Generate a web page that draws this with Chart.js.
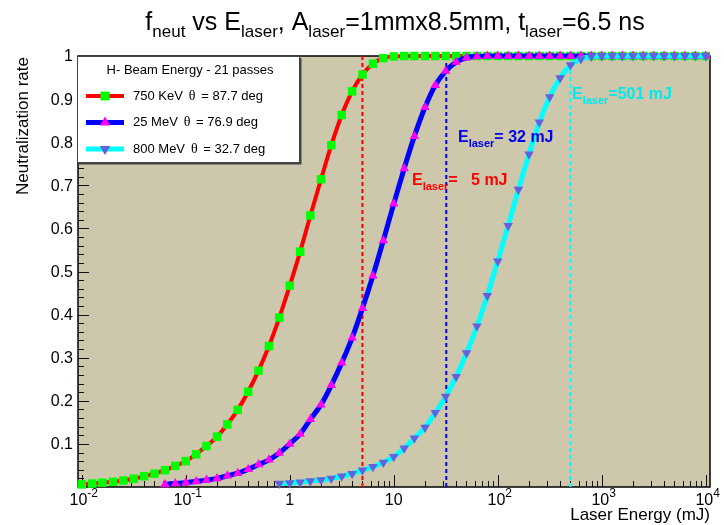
<!DOCTYPE html>
<html>
<head>
<meta charset="utf-8">
<script src="https://cdn.jsdelivr.net/npm/chart.js@4/dist/chart.umd.min.js"></script>
<style>
  body { margin: 0; background: #fff; }
  #wrap { width: 724px; height: 525px; position: relative; }
</style>
</head>
<body>
<div id="wrap"><canvas id="myChart"></canvas></div>
<script>
// laser energy grid (mJ), 10 points per decade
const energy = [
  0.01, 0.0126, 0.0158, 0.02, 0.0251, 0.0316, 0.0398, 0.0501, 0.0631, 0.0794,
  0.1, 0.126, 0.158, 0.2, 0.251, 0.316, 0.398, 0.501, 0.631, 0.794,
  1, 1.26, 1.58, 2, 2.51, 3.16, 3.98, 5.01, 6.31, 7.94,
  10, 12.6, 15.8, 20, 25.1, 31.6, 39.8, 50.1, 63.1, 79.4,
  100, 126, 158, 200, 251, 316, 398, 501, 631, 794,
  1000, 1260, 1580, 2000, 2510, 3160, 3980, 5010, 6310, 7940,
  10000
];

// neutralization rate, each series ends at 10^4 mJ
const rate750keV = [
  0.006, 0.008, 0.010, 0.012, 0.015, 0.019, 0.025, 0.031, 0.039, 0.049,
  0.060, 0.076, 0.095, 0.117, 0.145, 0.179, 0.221, 0.270, 0.327, 0.393,
  0.467, 0.546, 0.630, 0.714, 0.793, 0.863, 0.918, 0.957, 0.982, 0.995,
  0.999, 1, 1, 1, 1, 1, 1, 1, 1, 1,
  1, 1, 1, 1, 1, 1, 1, 1, 1, 1,
  1, 1, 1, 1, 1, 1, 1, 1, 1, 1,
  1
];
const rate25MeV = [
  0.006, 0.008, 0.010, 0.013, 0.016, 0.020, 0.026, 0.032,
  0.041, 0.052, 0.063, 0.079,
  0.100, 0.123, 0.157, 0.191, 0.236, 0.288, 0.346, 0.415, 0.490, 0.572,
  0.657, 0.739, 0.814, 0.881, 0.932, 0.965, 0.986, 0.996, 0.999, 1,
  1, 1, 1, 1, 1, 1, 1, 1, 1, 1,
  1, 1, 1, 1, 1, 1, 1, 1, 1, 1,
  1
];
const rate800MeV = [
  0.008,
  0.009, 0.011, 0.014, 0.016, 0.020, 0.025, 0.031, 0.039, 0.047, 0.057,
  0.070, 0.090, 0.113, 0.138, 0.172, 0.210, 0.256, 0.311, 0.373, 0.444,
  0.524, 0.606, 0.690, 0.772, 0.846, 0.905, 0.949, 0.979, 0.993, 0.999,
  1, 1, 1, 1, 1, 1, 1, 1, 1, 1,
  1
];

const seriesNames = ['750 KeV', '25 MeV', '800 MeV'];
const seriesTheta = ['87.7', '76.9', '32.7'];
const laserEnergy = [5, 32, 501];
const laserLabels = ['=   5 mJ', '= 32 mJ', '=501 mJ'];

const xTickValues = [0.01, 0.1, 1, 10, 100, 1000, 10000];
const xTickLabels = [['10', '-2'], ['10', '-1'], ['1', ''], ['10', ''], ['10', '2'], ['10', '3'], ['10', '4']];
const yTickValues = [0.1, 0.2, 0.3, 0.4, 0.5, 0.6, 0.7, 0.8, 0.9, 1];
const yTickLabels = ['0.1', '0.2', '0.3', '0.4', '0.5', '0.6', '0.7', '0.8', '0.9', '1'];

const SANS = '"Liberation Sans", Arial, Helvetica, sans-serif';
const SERIF = '"Liberation Serif", "Times New Roman", serif';
const lineColors = ['#ff0000', '#0000ff', '#00ffff'];
const markColors = ['#00ff00', '#ff00ff', '#6262dc'];
const labelColors = ['#ff0000', '#0000ee', '#00e8f0'];

const toPoints = vals => vals.map((v, i) => ({ x: energy[energy.length - vals.length + i], y: v }));

function richWidth(ctx, parts, fonts) {
  let w = 0;
  for (const [t, k] of parts) { ctx.font = fonts[k]; w += ctx.measureText(t).width; }
  return w;
}
function drawRich(ctx, parts, x, y, align, fonts, shifts) {
  const w = richWidth(ctx, parts, fonts);
  let cx = align === 'center' ? x - w / 2 : align === 'right' ? x - w : x;
  ctx.textAlign = 'left';
  ctx.textBaseline = 'alphabetic';
  for (const [t, k] of parts) {
    ctx.font = fonts[k];
    ctx.fillText(t, cx, y + shifts[k]);
    cx += ctx.measureText(t).width;
  }
}
function marker(ctx, kind, cx, cy, r, color) {
  ctx.fillStyle = color;
  ctx.beginPath();
  if (kind === 'rect') {
    const s = r * Math.SQRT1_2;
    ctx.rect(cx - s, cy - s, 2 * s, 2 * s);
  } else {
    const dir = kind === 'down' ? -1 : 1;
    for (let i = 0; i < 3; i++) {
      const a = i * 2 * Math.PI / 3;
      const px = cx + Math.sin(a) * r * dir, py = cy - Math.cos(a) * r * dir;
      i ? ctx.lineTo(px, py) : ctx.moveTo(px, py);
    }
    ctx.closePath();
  }
  ctx.fill();
}

const rootFrame = {
  id: 'rootFrame',
  beforeDatasetsDraw(chart) {
    const { ctx, chartArea: a, scales: { x, y } } = chart;
    ctx.save();
    ctx.fillStyle = '#cdc7ab';
    ctx.fillRect(a.left, a.top, a.right - a.left, a.bottom - a.top);
    ctx.strokeStyle = '#111';
    ctx.lineWidth = 1;
    ctx.beginPath();
    for (let d = -3; d <= 4; d++) {
      for (let m = 1; m <= 9; m++) {
        const v = m * Math.pow(10, d);
        if (v < x.min || v > x.max) continue;
        const px = Math.round(x.getPixelForValue(v)) + 0.5;
        ctx.moveTo(px, a.bottom);
        ctx.lineTo(px, a.bottom - (m === 1 ? 12 : 6));
      }
    }
    for (let i = 1; i < 50; i++) {
      const py = Math.round(y.getPixelForValue(i * 0.02)) + 0.5;
      ctx.moveTo(a.left, py);
      ctx.lineTo(a.left + (i % 5 === 0 ? 11 : 6), py);
    }
    ctx.stroke();
    ctx.lineWidth = 1.5;
    ctx.strokeStyle = '#000';
    ctx.strokeRect(a.left, a.top, a.right - a.left, a.bottom - a.top);
    ctx.restore();
  },
  afterDraw(chart) {
    const { ctx, chartArea: a, scales: { x, y } } = chart;
    ctx.save();
    ctx.fillStyle = '#000';
    // title
    drawRich(ctx, [['f', 0], ['neut', 1], [' vs E', 0], ['laser', 1], [', A', 0], ['laser', 1],
      ['=1mmx8.5mm, t', 0], ['laser', 1], ['=6.5 ns', 0]], 395, 30, 'center',
      ['25px ' + SANS, '17px ' + SANS], [0, 7]);
    // x tick labels
    xTickValues.forEach((v, i) => {
      const [b, e] = xTickLabels[i];
      const parts = e ? [[b, 0], [e, 2]] : [[b, 0]];
      drawRich(ctx, parts, x.getPixelForValue(v) + (e ? 2 : 0), 505, 'center',
        ['16px ' + SANS, '', '12px ' + SANS], [0, 0, -8]);
    });
    // y tick labels
    ctx.font = '16px ' + SANS;
    ctx.textAlign = 'right';
    ctx.textBaseline = 'middle';
    yTickValues.forEach((v, i) => ctx.fillText(yTickLabels[i], 73, y.getPixelForValue(v) + 1));
    // axis titles
    ctx.font = '17px ' + SANS;
    ctx.textAlign = 'right';
    ctx.textBaseline = 'alphabetic';
    ctx.fillText('Laser Energy (mJ)', a.right, 520);
    ctx.save();
    ctx.translate(28, a.top + 1);
    ctx.rotate(-Math.PI / 2);
    ctx.fillText('Neutralization rate', 0, 0);
    ctx.restore();
    // laser energy labels
    const lx = [412, 458, 572], ly = [185, 142, 99];
    laserEnergy.forEach((v, i) => {
      ctx.fillStyle = labelColors[i];
      drawRich(ctx, [['E', 0], ['laser', 1], [laserLabels[i], 0]], lx[i], ly[i], 'left',
        ['bold 16px ' + SANS, 'bold 11px ' + SANS], [0, 5]);
    });
    // legend
    const L = 77, T = 56, R = 299, B = 162;
    ctx.fillStyle = '#fff';
    ctx.fillRect(L, T, R - L, B - T);
    ctx.strokeStyle = '#444';
    ctx.lineWidth = 1;
    ctx.strokeRect(L + 0.5, T + 0.5, R - L, B - T);
    ctx.lineWidth = 2;
    ctx.beginPath();
    ctx.moveTo(R + 1.5, T + 2); ctx.lineTo(R + 1.5, B + 1.5); ctx.lineTo(L + 2, B + 1.5);
    ctx.stroke();
    ctx.fillStyle = '#000';
    ctx.font = '13px ' + SANS;
    ctx.textAlign = 'center';
    ctx.textBaseline = 'middle';
    ctx.fillText('H- Beam Energy - 21 passes', 190, 70);
    const kinds = ['rect', 'up', 'down'];
    const lw = [4, 5, 5];
    seriesNames.forEach((name, i) => {
      const ry = 96 + i * 26.5;
      ctx.strokeStyle = lineColors[i];
      ctx.lineWidth = lw[i];
      ctx.beginPath(); ctx.moveTo(86, ry); ctx.lineTo(124, ry); ctx.stroke();
      marker(ctx, kinds[i], 105, ry, i ? 6 : 6.3, markColors[i]);
      ctx.fillStyle = '#000';
      ctx.textAlign = 'left';
      ctx.font = '13px ' + SANS;
      ctx.fillText(name, 133, ry);
      let cx = 133 + ctx.measureText(name).width + 6;
      ctx.font = '14px ' + SERIF;
      ctx.fillText('\u03b8', cx, ry);
      cx += ctx.measureText('\u03b8').width + 2;
      ctx.font = '13px ' + SANS;
      ctx.fillText(' = ' + seriesTheta[i] + ' deg', cx, ry);
    });
    ctx.restore();
  }
};

const vline = (v, color) => ({
  data: [{ x: v, y: 0 }, { x: v, y: 1 }],
  borderColor: color, borderWidth: 2, borderDash: [4, 3],
  pointRadius: 0, order: 10
});

new Chart(document.getElementById('myChart'), {
  type: 'line',
  data: {
    datasets: [
      {
        label: seriesNames[0], data: toPoints(rate750keV), order: 3, clip: false,
        borderColor: lineColors[0], borderWidth: 4, cubicInterpolationMode: 'monotone',
        pointStyle: 'rect', pointRadius: 6, pointBackgroundColor: markColors[0], pointBorderWidth: 0
      },
      {
        label: seriesNames[1], data: toPoints(rate25MeV), order: 2, clip: false,
        borderColor: lineColors[1], borderWidth: 5, cubicInterpolationMode: 'monotone',
        pointStyle: 'triangle', pointRadius: 5.5, pointBackgroundColor: markColors[1], pointBorderWidth: 0
      },
      {
        label: seriesNames[2], data: toPoints(rate800MeV), order: 1, clip: false,
        borderColor: lineColors[2], borderWidth: 5, cubicInterpolationMode: 'monotone',
        pointStyle: 'triangle', pointRotation: 180, pointRadius: 5.5, pointBackgroundColor: markColors[2], pointBorderWidth: 0
      },
      vline(laserEnergy[0], '#ff0000'),
      vline(laserEnergy[1], '#0000ff'),
      vline(laserEnergy[2], '#00ffff')
    ]
  },
  options: {
    responsive: true,
    maintainAspectRatio: false,
    animation: false,
    events: [],
    layout: { padding: { left: 78, top: 56, right: 14, bottom: 38 } },
    scales: {
      x: { type: 'logarithmic', min: 0.0092, max: 11000, display: false },
      y: { type: 'linear', min: 0, max: 1, display: false }
    },
    plugins: {
      legend: { display: false },
      tooltip: { enabled: false }
    }
  },
  plugins: [rootFrame]
});
</script>
</body>
</html>
